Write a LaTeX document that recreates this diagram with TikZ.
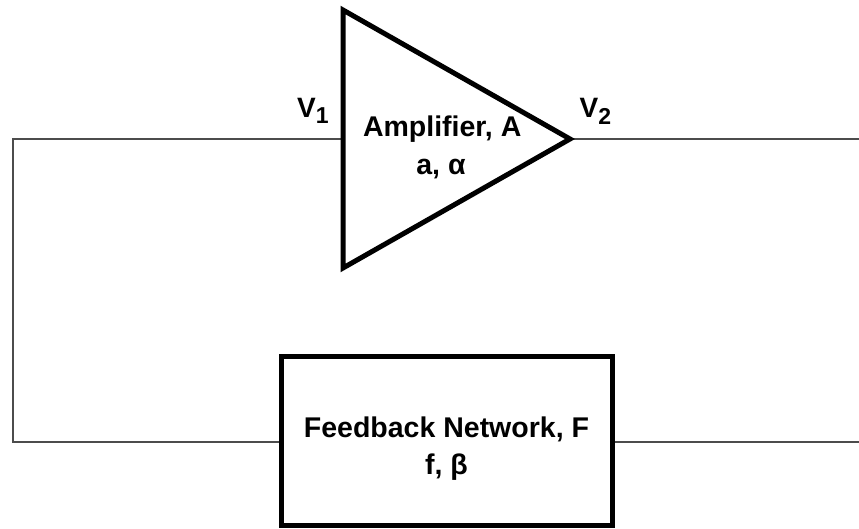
\documentclass[tikz,border=0pt]{standalone}
\usepackage{fontspec}
\setmainfont{Liberation Sans}
\begin{document}
\begin{tikzpicture}[x=1pt,y=-1pt,
  wire/.style={draw=black!70, line width=1.4pt},
  thick block/.style={draw=black, line width=5pt, line join=miter},
  lbl/.style={inner sep=0pt, anchor=base, font=\bfseries\fontsize{28.5}{34}\selectfont},
  vlbl/.style={inner sep=0pt, anchor=base west, font=\bfseries\fontsize{28}{33}\selectfont}]
\useasboundingbox (0,0) rectangle (859,529);
% amplifier triangle
\coordinate (atop) at (343,10);
\coordinate (abot) at (343,268);
\coordinate (ain) at (343,139);
\coordinate (aout) at (570,139);
% feedback box
\node[thick block, minimum width=331pt, minimum height=169pt, inner sep=0pt, outer sep=0pt] (fb) at (446.5,440.5) {};
\coordinate (fbin) at (fb.west |- 0,442);
\coordinate (fbout) at (fb.east |- 0,442);
% wires
\coordinate (lt) at (13,139);
\coordinate (lb) at (13,442);
\coordinate (rt) at (859,139);
\coordinate (rb) at (859,442);
\draw[wire] (ain) -- (lt) -- (lb) -- (fbin);
\draw[wire] (aout) -- (rt);
\draw[wire] (fbout) -- (rb);
\draw[thick block, fill=white] (atop) -- (aout) -- (abot) -- cycle;
\draw[thick block] (fb.north west) rectangle (fb.south east);
% texts
\node[lbl] (amp1) at (442.2,136.7) {Amplifier, A};
\node[lbl] (amp2) at (441,175) {a, α};
\node[lbl] (fb1) at (446.5,437) {Feedback Network, F};
\node[lbl] (fb2) at (446.5,474) {f, β};
\node[vlbl] (v1) at (297,117.3) {V\raisebox{-6.5pt}{\fontsize{23}{28}\selectfont 1}};
\node[vlbl] (v2) at (579.5,117.3) {V\raisebox{-7.5pt}{\fontsize{23}{28}\selectfont 2}};
\end{tikzpicture}
\end{document}
